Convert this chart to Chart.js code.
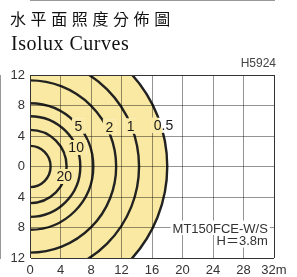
<!DOCTYPE html>
<html>
<head>
<meta charset="utf-8">
<script src="https://cdn.jsdelivr.net/npm/chart.js@4/dist/chart.umd.min.js"></script>
<style>
html, body { margin: 0; padding: 0; background: #fff; }
#wrap { position: relative; width: 297px; height: 277px; }
#isolux { position: absolute; left: 0; top: 0; }
.t { position: absolute; white-space: nowrap; }
</style>
</head>
<body>
<div id="wrap">
  <canvas id="isolux" width="297" height="277"></canvas>
  <div class="t" style="left:10px;top:10px;font:16px/16px 'Noto Sans CJK TC';letter-spacing:4.6px;color:#111">水平面照度分佈圖</div>
  <div class="t" style="left:11px;top:33px;font:20px/20px 'Liberation Serif';letter-spacing:0.5px;color:#111">Isolux Curves</div>
  <div class="t" style="right:21px;top:57px;font:12px/12px 'Liberation Sans';color:#444">H5924</div>
</div>
<script>
// isolux levels (lx) and the radius of each curve in metres
const luxLevels = ['', '20', '10', '5', '2', '1', '0.5'];
const radiusM = [2.7, 4.8, 6.6, 8.3, 11.3, 14.3, 18.0];
// where the level numbers sit (metres)
const labelX = [null, 4.5, 6.05, 6.35, 10.4, 13.2, 17.5];
const labelY = [null, -1.3, 2.5, 5.3, 5.2, 5.3, 5.4];
const xTicks = [0, 4, 8, 12, 16, 20, 24, 28, 32];
const yTicks = [-12, -8, -4, 0, 4, 8, 12];
const lampName = 'MT150FCE-W/S';
const mountHeight = 'H＝3.8m';

const YELLOW = '#f9e9a2';
const lightArea = radiusM[radiusM.length - 1];

Chart.defaults.font.family = "'Liberation Sans', Arial, sans-serif";

function pxPerMetre(chart) {
    const xs = chart.scales.x;
    return xs.getPixelForValue(1) - xs.getPixelForValue(0);
}

const labelPlugin = {
    id: 'isoluxLabels',
    afterDraw(chart) {
        const ctx = chart.ctx;
        const xs = chart.scales.x, ys = chart.scales.y;
        const cx = xs.getPixelForValue(0), cy = ys.getPixelForValue(0);
        const k = pxPerMetre(chart);
        ctx.save();
        ctx.font = "14px 'Liberation Sans'";
        ctx.textAlign = 'center';
        ctx.textBaseline = 'alphabetic';
        luxLevels.forEach((lv, i) => {
            if (!lv) return;
            const px = xs.getPixelForValue(labelX[i]);
            const py = ys.getPixelForValue(labelY[i]);
            const w = ctx.measureText(lv).width;
            // knock the curve and grid out behind the number
            ctx.save();
            ctx.beginPath();
            ctx.rect(px - w / 2 - 2.5, py - 7.5, w + 5, 15);
            ctx.clip();
            ctx.fillStyle = '#fff';
            ctx.fillRect(px - w / 2 - 3, py - 8, w + 6, 16);
            ctx.beginPath();
            ctx.arc(cx, cy, lightArea * k, 0, Math.PI * 2);
            ctx.fillStyle = YELLOW;
            ctx.fill();
            ctx.restore();
            ctx.fillStyle = '#1a1a1a';
            ctx.fillText(lv, px, py + 5);
        });

        // lamp note, lower right
        ctx.font = "13px 'Liberation Sans', 'Noto Sans CJK TC'";
        ctx.textAlign = 'right';
        const rx = xs.getPixelForValue(31.2);
        const base = ys.getPixelForValue(-8);
        [[lampName, base + 5], [mountHeight, base + 17.5]].forEach(([txt, by]) => {
            const w = ctx.measureText(txt).width;
            ctx.fillStyle = '#fff';
            ctx.fillRect(rx - w - 2, by - 12, w + 4, 14.5);
            ctx.fillStyle = '#333';
            ctx.fillText(txt, rx, by);
        });
        ctx.restore();
    }
};

const gridColor = edge => ctx => (ctx.tick && edge.includes(ctx.tick.value)) ? '#333' : 'rgba(0,0,0,0.42)';

new Chart(document.getElementById('isolux'), {
    type: 'scatter',
    data: {
        datasets: [{
            label: 'curves',
            data: radiusM.map(r => ({x: 0, y: 0, r: r})),
            order: 0,
            pointRadius: c => c.raw ? c.raw.r * pxPerMetre(c.chart) : 0,
            pointBackgroundColor: 'rgba(0,0,0,0)',
            pointBorderColor: '#222',
            pointBorderWidth: 2.4
        }, {
            label: 'area',
            data: [{x: 0, y: 0, r: lightArea}],
            order: 1,
            pointRadius: c => c.raw ? c.raw.r * pxPerMetre(c.chart) : 0,
            pointBackgroundColor: YELLOW,
            pointBorderWidth: 0
        }]
    },
    options: {
        responsive: false,
        animation: false,
        events: [],
        layout: { padding: { top: 75, right: 23, left: 0, bottom: 0 } },
        plugins: { legend: { display: false }, tooltip: { enabled: false } },
        scales: {
            x: {
                type: 'linear', min: 0, max: 32,
                afterBuildTicks: s => { s.ticks = xTicks.map(v => ({value: v})); },
                afterFit: s => { s.height = 19; },
                grid: { z: 1, color: gridColor([0, 32]), lineWidth: 1, drawTicks: false },
                border: { color: '#333', width: 1 },
                ticks: {
                    autoSkip: false, maxRotation: 0, padding: 5, color: '#333',
                    font: { size: 13 },
                    callback: v => v === 32 ? '32m' : v
                }
            },
            y: {
                type: 'linear', min: -12, max: 12,
                afterBuildTicks: s => { s.ticks = yTicks.map(v => ({value: v})); },
                afterFit: s => { s.width = 30; },
                grid: { z: 1, color: gridColor([-12, 12]), lineWidth: 1, drawTicks: false },
                border: { color: '#333', width: 1 },
                ticks: {
                    autoSkip: false, padding: 5, color: '#333',
                    font: { size: 13 },
                    callback: v => Math.abs(v)
                }
            }
        }
    },
    plugins: [labelPlugin]
});
</script>
</body>
</html>
